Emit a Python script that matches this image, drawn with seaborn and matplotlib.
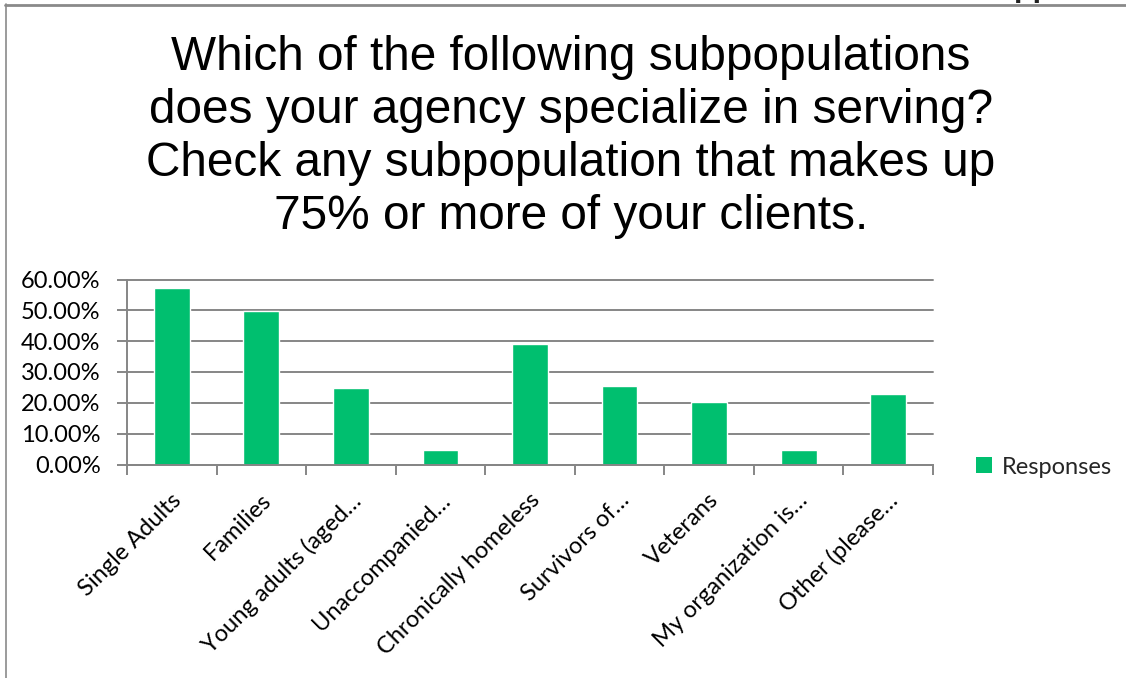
import matplotlib
matplotlib.use("Agg")
import matplotlib.pyplot as plt
from matplotlib.ticker import PercentFormatter, FixedLocator
from matplotlib.lines import Line2D
from matplotlib.transforms import ScaledTranslation
import seaborn as sns
import pandas as pd

# Survey responses: share of agencies specializing in each subpopulation
categories = [
    "Single Adults",
    "Families",
    "Young adults (aged…",
    "Unaccompanied…",
    "Chronically homeless",
    "Survivors of…",
    "Veterans",
    "My organization is…",
    "Other (please…",
]
responses = [0.574, 0.497, 0.248, 0.048, 0.392, 0.255, 0.203, 0.048, 0.229]
series_name = "Responses"
y_ticks = [0.0, 0.1, 0.2, 0.3, 0.4, 0.5, 0.6]

title = ("Which of the following subpopulations\n"
         "does your agency specialize in serving?\n"
         "Check any subpopulation that makes up\n"
         "75% or more of your clients.")

BAR = "#00BF6F"
GRID = "#868686"
LABEL_FONT = ["Lato", "DejaVu Sans"]
LABEL_SIZE = 17

df = pd.DataFrame({"category": categories, "value": responses})

sns.set_theme(style="white")
plt.rcParams["font.family"] = LABEL_FONT

fig = plt.figure(figsize=(11.26, 6.78), dpi=100)
ax = fig.add_axes([127 / 1126, 1 - 464.5 / 678, (933 - 127) / 1126, (464.5 - 279.5) / 678])

sns.barplot(data=df, x="category", y="value", color=BAR, width=0.4,
            saturation=1, ax=ax, zorder=3)

ax.set_xlim(-0.5, len(categories) - 0.5)
ax.set_ylim(0, 0.6)
ax.yaxis.set_major_locator(FixedLocator(y_ticks))
ax.yaxis.set_major_formatter(PercentFormatter(1.0, decimals=2))
ax.grid(axis="y", color=GRID, linewidth=1.4, zorder=0)
for gl in ax.yaxis.get_gridlines():
    gl.set_clip_on(False)

for side in ("top", "right"):
    ax.spines[side].set_visible(False)
for side in ("left", "bottom"):
    ax.spines[side].set_color(GRID)
    ax.spines[side].set_linewidth(1.4)
    ax.spines[side].set_zorder(4)

ax.set_xlabel("")
ax.set_ylabel("")

# category boundaries carry the tick marks; labels sit at category centers
ax.set_xticks([i - 0.5 for i in range(len(categories) + 1)], minor=True)
ax.tick_params(axis="x", which="minor", length=7, width=1.4, color=GRID,
               direction="out", bottom=True)
ax.tick_params(axis="x", which="major", length=0, pad=13)
ax.tick_params(axis="y", which="major", length=7, width=1.4, color=GRID,
               direction="out", left=True, pad=12, labelsize=LABEL_SIZE,
               labelcolor="black")
ax.set_xticks(range(len(categories)))
ax.set_xticklabels(categories, rotation=45, ha="right", rotation_mode="anchor",
                   fontsize=LABEL_SIZE, color="black")
shift = ScaledTranslation(-1 / 72, -5 / 72, fig.dpi_scale_trans)
for lbl in ax.get_xticklabels():
    lbl.set_transform(lbl.get_transform() + shift)

handle = plt.Rectangle((0, 0), 1, 1, facecolor=BAR, edgecolor="none")
fig.legend([handle], [series_name], loc="center left",
           bbox_to_anchor=(955 / 1126, 1 - 467 / 678), frameon=False,
           handlelength=0.65, handleheight=0.65, handletextpad=0.45,
           prop={"family": LABEL_FONT, "size": LABEL_SIZE})

fig.text(571 / 1126, 1 - 137 / 678, title, ha="center", va="center",
         fontsize=34.4, family="Liberation Sans", color="black", linespacing=1.22)

# slide frame
fig.add_artist(Line2D([5 / 1126, 1], [1 - 4.5 / 678, 1 - 4.5 / 678],
                      transform=fig.transFigure, color="#8a8a8a", linewidth=2))
fig.add_artist(Line2D([5.5 / 1126, 5.5 / 1126], [0, 1 - 4 / 678],
                      transform=fig.transFigure, color="#8a8a8a", linewidth=1.2))
fig.text(1014 / 1126, 1 + 4 / 678, "pp", ha="left", va="baseline",
         fontsize=22, family="Liberation Sans", weight="bold", color="#222222")

fig.savefig("out.png", dpi=100, facecolor="white")
